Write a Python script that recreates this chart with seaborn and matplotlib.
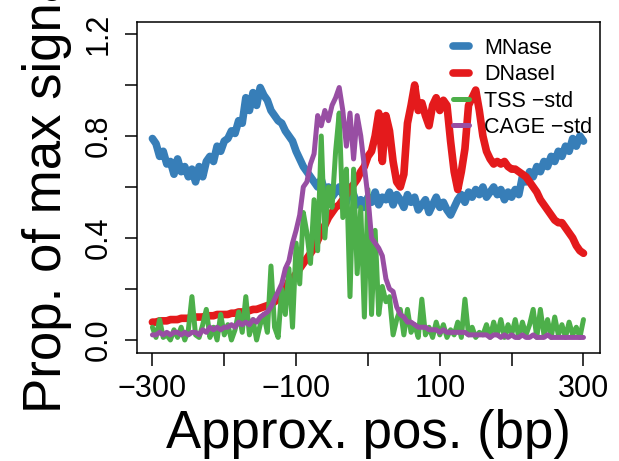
import numpy as np
import pandas as pd
import matplotlib
matplotlib.use('Agg')
import matplotlib.pyplot as plt
import seaborn as sns

# positions (bp), one value every 5 bp
pos = list(range(-300, 305, 5))

mnase = [0.79, 0.77, 0.72, 0.74, 0.69, 0.70, 0.65, 0.71, 0.66, 0.68,
         0.64, 0.67, 0.62, 0.68, 0.64, 0.70, 0.72, 0.70, 0.76, 0.74,
         0.78, 0.79, 0.82, 0.81, 0.86, 0.85, 0.95, 0.90, 0.97, 0.92,
         0.99, 0.96, 0.94, 0.90, 0.88, 0.86, 0.85, 0.82, 0.80, 0.78,
         0.74, 0.71, 0.68, 0.66, 0.64, 0.62, 0.60, 0.63, 0.58, 0.60,
         0.56, 0.58, 0.60, 0.57, 0.54, 0.60, 0.57, 0.53, 0.55, 0.52,
         0.56, 0.54, 0.58, 0.53, 0.56, 0.55, 0.58, 0.53, 0.57, 0.55,
         0.52, 0.57, 0.54, 0.56, 0.51, 0.53, 0.55, 0.50, 0.53, 0.56,
         0.52, 0.54, 0.51, 0.49, 0.52, 0.55, 0.57, 0.54, 0.58, 0.56,
         0.59, 0.57, 0.60, 0.56, 0.58, 0.60, 0.57, 0.59, 0.55, 0.58,
         0.56, 0.59, 0.57, 0.64, 0.62, 0.66, 0.64, 0.68, 0.66, 0.70,
         0.68, 0.72, 0.70, 0.74, 0.72, 0.76, 0.74, 0.79, 0.76, 0.80,
         0.78]

dnase = [0.07, 0.07, 0.075, 0.075, 0.075, 0.08, 0.08, 0.08, 0.085, 0.085,
         0.085, 0.09, 0.09, 0.09, 0.09, 0.095, 0.095, 0.095, 0.10, 0.10,
         0.10, 0.10, 0.105, 0.105, 0.11, 0.11, 0.11, 0.115, 0.12, 0.12,
         0.125, 0.13, 0.135, 0.14, 0.15, 0.16, 0.17, 0.20, 0.23, 0.24,
         0.26, 0.28, 0.30, 0.32, 0.34, 0.36, 0.39, 0.42, 0.45, 0.48,
         0.50, 0.52, 0.53, 0.55, 0.57, 0.59, 0.61, 0.63, 0.66, 0.68,
         0.72, 0.74, 0.80, 0.89, 0.70, 0.88, 0.82, 0.70, 0.62, 0.60,
         0.65, 0.85, 0.92, 1.00, 0.90, 0.93, 0.88, 0.84, 0.92, 0.95,
         0.90, 0.94, 0.92, 0.78, 0.66, 0.59, 0.66, 0.75, 0.92, 0.95,
         0.98, 0.90, 0.80, 0.74, 0.71, 0.69, 0.70, 0.69, 0.70, 0.68,
         0.67, 0.67, 0.66, 0.65, 0.64, 0.62, 0.60, 0.58, 0.55, 0.53,
         0.51, 0.49, 0.47, 0.46, 0.46, 0.44, 0.42, 0.40, 0.37, 0.35,
         0.34]

tss = [0.05, 0.01, 0.08, 0.01, 0.02, 0.00, 0.04, 0.01, 0.05, 0.00,
       0.04, 0.17, 0.02, 0.01, 0.06, 0.12, 0.01, 0.05, 0.00, 0.10,
       0.02, 0.06, 0.00, 0.04, 0.11, 0.03, 0.17, 0.02, 0.08, 0.00,
       0.06, 0.10, 0.03, 0.29, 0.05, 0.01, 0.20, 0.10, 0.28, 0.05,
       0.38, 0.22, 0.50, 0.42, 0.30, 0.55, 0.35, 0.80, 0.40, 0.60,
       0.52, 0.74, 0.89, 0.48, 0.67, 0.17, 0.67, 0.26, 0.52, 0.09,
       0.59, 0.10, 0.43, 0.10, 0.21, 0.15, 0.17, 0.02, 0.08, 0.12,
       0.02, 0.12, 0.03, 0.06, 0.01, 0.16, 0.02, 0.05, 0.01, 0.07,
       0.02, 0.06, 0.01, 0.04, 0.02, 0.07, 0.01, 0.16, 0.02, 0.05,
       0.01, 0.03, 0.02, 0.06, 0.01, 0.07, 0.02, 0.08, 0.01, 0.06,
       0.02, 0.08, 0.01, 0.07, 0.02, 0.06, 0.12, 0.01, 0.12, 0.02,
       0.08, 0.01, 0.09, 0.02, 0.06, 0.01, 0.07, 0.02, 0.05, 0.01,
       0.08]

cage = [0.02, 0.02, 0.03, 0.02, 0.03, 0.02, 0.03, 0.03, 0.02, 0.03,
        0.02, 0.03, 0.03, 0.02, 0.04, 0.03, 0.05, 0.04, 0.05, 0.04,
        0.05, 0.05, 0.06, 0.05, 0.07, 0.06, 0.07, 0.06, 0.08, 0.07,
        0.09, 0.10, 0.11, 0.13, 0.16, 0.19, 0.22, 0.28, 0.31, 0.38,
        0.43, 0.49, 0.60, 0.62, 0.69, 0.73, 0.88, 0.84, 0.90, 0.86,
        0.92, 0.95, 0.99, 0.90, 0.76, 0.89, 0.71, 0.88, 0.80, 0.68,
        0.56, 0.40, 0.38, 0.36, 0.33, 0.24, 0.20, 0.19, 0.13, 0.10,
        0.09, 0.07, 0.07, 0.06, 0.05, 0.05, 0.05, 0.04, 0.04, 0.04,
        0.03, 0.04, 0.03, 0.03, 0.03, 0.03, 0.03, 0.03, 0.02, 0.02,
        0.02, 0.02, 0.02, 0.02, 0.01, 0.02, 0.02, 0.01, 0.02, 0.01,
        0.02, 0.01, 0.01, 0.02, 0.01, 0.01, 0.02, 0.01, 0.01, 0.01,
        0.02, 0.01, 0.01, 0.01, 0.01, 0.01, 0.01, 0.01, 0.01, 0.01,
        0.01]

tracks = ['MNase', 'DNaseI', 'TSS \u2212std', 'CAGE \u2212std']
colors = ['#377EB8', '#E41A1C', '#4DAF4A', '#984EA3']
widths = [5.5, 5.5, 3.6, 3.6]

sns.set_style('white')
plt.rcParams['font.family'] = ['Liberation Sans', 'DejaVu Sans']
plt.rcParams['text.color'] = 'black'
plt.rcParams['axes.labelcolor'] = 'black'

fig = plt.figure(figsize=(6.19, 4.61), dpi=100)
ax = fig.add_axes([0.2213, 0.2343, 0.748, 0.718])

for name, vals, col, lw in zip(tracks, [mnase, dnase, tss, cage], colors, widths):
    df = pd.DataFrame({'pos': pos, 'val': vals})
    sns.lineplot(data=df, x='pos', y='val', color=col, linewidth=lw,
                 label=name, ax=ax, solid_capstyle='round', solid_joinstyle='round')

ax.set_xlim(-321.5, 323)
ax.set_ylim(-0.051, 1.247)

ax.set_xticks([-300, -200, -100, 0, 100, 200, 300])
ax.set_xticklabels(['\u2212300', '', '\u2212100', '', '100', '', '300'])
ax.set_yticks([0, 0.2, 0.4, 0.6, 0.8, 1.0, 1.2])
ax.set_yticklabels(['0.0', '', '0.4', '', '0.8', '', '1.2'], rotation=90, va='center')
ax.tick_params(axis='both', direction='out', length=9, width=1.1, labelsize=22,
               color='black', labelcolor='black', bottom=True, left=True)
ax.tick_params(axis='x', pad=6)
ax.tick_params(axis='y', pad=8)

for s in ax.spines.values():
    s.set_color('black')
    s.set_linewidth(1.1)

ax.set_xlabel('Approx. pos. (bp)', fontsize=38, labelpad=4)
ax.set_ylabel('Prop. of max signal', fontsize=38, labelpad=8)

leg = ax.legend(loc='upper left', bbox_to_anchor=(0.6825, 0.952), frameon=False,
                fontsize=15.5, handlelength=0.75, handletextpad=0.7, labelspacing=0.25,
                borderpad=0, borderaxespad=0)

fig.savefig('out.png', dpi=100)
